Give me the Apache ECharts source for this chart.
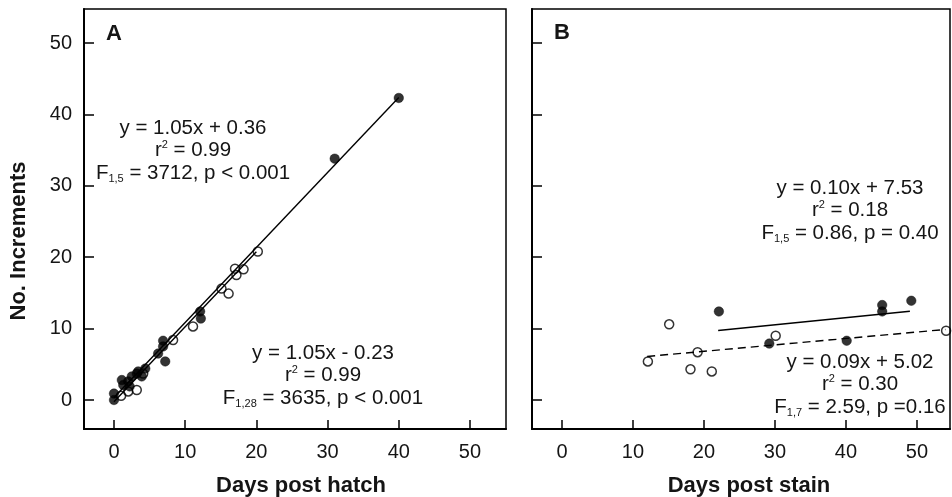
<!DOCTYPE html>
<html>
<head>
<meta charset="utf-8">
<script src="https://cdn.jsdelivr.net/npm/echarts@6/dist/echarts.min.js"></script>
<style>
html,body{margin:0;padding:0;background:#fff;}
#chart{width:952px;height:497px;}
</style>
</head>
<body>
<div id="chart"></div>
<script>
// ---- Data ----
// Panel A: days post hatch vs number of increments
const hatchFilledX = [0, 0, 1.1, 1.3, 2.0, 2.5, 3.2, 3.4, 3.9, 4.4, 2.2, 6.2, 6.9, 6.9, 7.2, 12.1, 12.2, 31.0, 40.0];
const hatchFilledY = [0, 0.9, 2.8, 2.1, 2.6, 3.3, 3.7, 4.0, 3.3, 4.4, 1.9, 6.5, 8.3, 7.5, 5.4, 12.4, 11.4, 33.8, 42.3];
const hatchOpenX = [1.0, 2.0, 3.2, 4.1, 8.3, 11.1, 15.1, 16.1, 17.0, 17.2, 18.2, 20.2];
const hatchOpenY = [0.6, 1.2, 1.4, 3.7, 8.4, 10.3, 15.6, 14.9, 18.4, 17.5, 18.3, 20.8];
// Panel B: days post stain vs number of increments
const stainFilledX = [22.1, 29.2, 40.1, 45.1, 45.1, 49.2];
const stainFilledY = [12.4, 7.9, 8.3, 13.3, 12.4, 13.9];
const stainOpenX = [12.1, 15.1, 18.1, 19.1, 21.1, 30.1, 54.1];
const stainOpenY = [5.4, 10.6, 4.3, 6.7, 4.0, 9.0, 9.7];
// Regression fits: [slope, intercept, xStart, xEnd]
const fitHatchFilled = [1.05, 0.36, 0, 40];
const fitHatchOpen = [1.05, -0.23, 0, 20];
const fitStainFilled = [0.10, 7.53, 22, 49];
const fitStainOpen = [0.09, 5.02, 12, 54];
// Tick values
const tickValues = [0, 10, 20, 30, 40, 50];
// Annotation texts
const annHatchFilled = ['y = 1.05x + 0.36', '0.99', '1,5', '3712, p < 0.001'];
const annHatchOpen = ['y = 1.05x - 0.23', '0.99', '1,28', '3635, p < 0.001'];
const annStainFilled = ['y = 0.10x + 7.53', '0.18', '1,5', '0.86, p = 0.40'];
const annStainOpen = ['y = 0.09x + 5.02', '0.30', '1,7', '2.59, p =0.16'];

const FONT = '"Liberation Sans", Arial, Helvetica, sans-serif';
const INK = '#151515';

function zip(xs, ys) { return xs.map((x, i) => [x, ys[i]]); }
function fitLine(f) { return [[f[2], f[0] * f[2] + f[1]], [f[3], f[0] * f[3] + f[1]]]; }

function xAxisCfg(grid, name, min, max, padLeft) {
  return {
    gridIndex: grid, type: 'value', min: min, max: max,
    name: name, nameLocation: 'middle', nameGap: 46,
    nameTextStyle: {fontFamily: FONT, fontWeight: 'bold', fontSize: 22, color: INK, padding: [0, 0, 0, padLeft]},
    axisLine: {show: true, onZero: false, lineStyle: {color: '#000', width: 2}},
    axisTick: {show: true, inside: true, length: 9, customValues: tickValues, lineStyle: {color: '#000', width: 1.5}},
    axisLabel: {show: true, customValues: tickValues, fontFamily: FONT, fontSize: 20, color: INK, margin: 13},
    splitLine: {show: false}
  };
}
function yAxisCfg(grid, showLabels) {
  return {
    gridIndex: grid, type: 'value', min: -4.06, max: 54.76,
    axisLine: {show: true, onZero: false, lineStyle: {color: '#000', width: 2}},
    axisTick: {show: true, inside: true, length: 10, customValues: tickValues, lineStyle: {color: '#000', width: 1.5}},
    axisLabel: {show: showLabels, customValues: tickValues, fontFamily: FONT, fontSize: 20, color: INK, margin: 12},
    splitLine: {show: false}
  };
}

const filledStyle = {color: '#000', borderColor: '#000', borderWidth: 0.5};
const openStyle = {color: 'rgba(255,255,255,0)', borderColor: '#000', borderWidth: 1.5};
const lineStyleSolid = {color: '#000', width: 1.4, type: 'solid'};

const rich = {
  n: {fontFamily: FONT, fontSize: 20.5, color: INK, lineHeight: 22.5},
  p: {fontFamily: FONT, fontSize: 11, color: INK, lineHeight: 12, verticalAlign: 'top'},
  b: {fontFamily: FONT, fontSize: 11, color: '#444', lineHeight: 12, verticalAlign: 'bottom'}
};
function annText(a) {
  return '{n|' + a[0] + '}\n{n|r}{p|2}{n| = ' + a[1] + '}\n{n|F}{b|' + a[2] + '}{n| = ' + a[3] + '}';
}
function annGraphic(a, x, y) {
  return {type: 'text', x: x, y: y, z: 100,
    style: {text: annText(a), rich: rich, align: 'center', verticalAlign: 'top', fill: INK, font: '20px ' + FONT}};
}

const chart = echarts.init(document.getElementById('chart'), null, {renderer: 'canvas'});
chart.setOption({
  animation: false,
  backgroundColor: '#fff',
  grid: [
    {left: 84, top: 9, width: 422, height: 420, outerBoundsMode: 'none', containLabel: false, show: true, borderColor: '#000', borderWidth: 1.5, backgroundColor: 'transparent'},
    {left: 532, top: 9, width: 418, height: 420, outerBoundsMode: 'none', containLabel: false, show: true, borderColor: '#000', borderWidth: 1.5, backgroundColor: 'transparent'}
  ],
  xAxis: [xAxisCfg(0, 'Days post hatch', -4.21, 55.06, 12), xAxisCfg(1, 'Days post stain', -4.22, 54.65, 16)],
  yAxis: [yAxisCfg(0, true), yAxisCfg(1, false)],
  series: [
    {type: 'line', xAxisIndex: 0, yAxisIndex: 0, data: fitLine(fitHatchFilled), symbol: 'none', lineStyle: lineStyleSolid, z: 3},
    {type: 'line', xAxisIndex: 0, yAxisIndex: 0, data: fitLine(fitHatchOpen), symbol: 'none', lineStyle: lineStyleSolid, z: 3},
    {type: 'scatter', xAxisIndex: 0, yAxisIndex: 0, data: zip(hatchOpenX, hatchOpenY), symbol: 'circle', symbolSize: 9, itemStyle: openStyle, z: 2},
    {type: 'scatter', xAxisIndex: 0, yAxisIndex: 0, data: zip(hatchFilledX, hatchFilledY), symbol: 'circle', symbolSize: 9.5, itemStyle: filledStyle, z: 4},
    {type: 'line', xAxisIndex: 1, yAxisIndex: 1, data: fitLine(fitStainFilled), symbol: 'none', lineStyle: lineStyleSolid, z: 3},
    {type: 'line', xAxisIndex: 1, yAxisIndex: 1, data: fitLine(fitStainOpen), symbol: 'none', lineStyle: {color: '#000', width: 1.4, type: [8, 5]}, z: 3},
    {type: 'scatter', xAxisIndex: 1, yAxisIndex: 1, data: zip(stainOpenX, stainOpenY), symbol: 'circle', symbolSize: 9, itemStyle: openStyle, z: 2},
    {type: 'scatter', xAxisIndex: 1, yAxisIndex: 1, data: zip(stainFilledX, stainFilledY), symbol: 'circle', symbolSize: 9.5, itemStyle: filledStyle, z: 4}
  ],
  graphic: [
    {type: 'text', x: 106, y: 23, style: {text: 'A', font: 'bold 22px ' + FONT, fill: INK}},
    {type: 'text', x: 554, y: 22, style: {text: 'B', font: 'bold 22px ' + FONT, fill: INK}},
    {type: 'text', x: 19, y: 241, rotation: Math.PI / 2, style: {text: 'No. Increments', font: 'bold 22px ' + FONT, fill: INK, align: 'center', verticalAlign: 'middle'}},
    annGraphic(annHatchFilled, 193, 117),
    annGraphic(annHatchOpen, 323, 342),
    annGraphic(annStainFilled, 850, 177),
    annGraphic(annStainOpen, 860, 351)
  ]
});
</script>
</body>
</html>
